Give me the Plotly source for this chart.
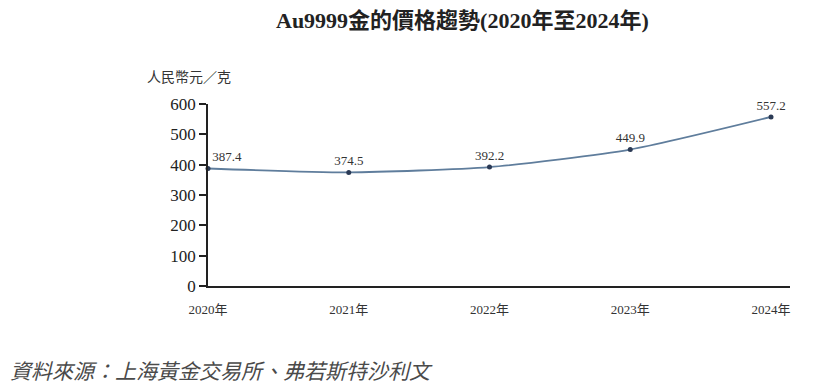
import plotly.graph_objects as go

years = [2020, 2021, 2022, 2023, 2024]
year_labels = ["2020年", "2021年", "2022年", "2023年", "2024年"]
prices = [387.4, 374.5, 392.2, 449.9, 557.2]
y_ticks = [0, 100, 200, 300, 400, 500, 600]

serif = "Liberation Serif, Times New Roman, serif"
cjk_serif = "Liberation Serif, Noto Sans CJK TC, serif"

fig = go.Figure()
fig.add_trace(go.Scatter(
    x=years, y=prices,
    mode="lines+markers+text",
    line=dict(color="#5f7d9c", width=1.8, shape="spline", smoothing=0.6),
    marker=dict(color="#2b3a55", size=5),
    text=[f"{v:.1f}" for v in prices],
    textposition=["top right", "top center", "top center", "top center", "top center"],
    textfont=dict(family=serif, size=13, color="#333333"),
    cliponaxis=False,
    hoverinfo="skip",
))

fig.update_layout(
    width=831, height=384,
    margin=dict(l=200, r=49, t=96, b=106),
    paper_bgcolor="white", plot_bgcolor="white",
    showlegend=False,
    xaxis=dict(
        range=[2020, 2024.135], tickmode="array", tickvals=years, ticktext=year_labels,
        showline=True, linecolor="#222222", linewidth=1.5, showgrid=False, zeroline=False,
        ticks="", tickfont=dict(family=cjk_serif, size=13, color="#333333"),
        ticklabelstandoff=11,
    ),
    yaxis=dict(
        range=[0, 600], tickmode="array", tickvals=y_ticks,
        showline=True, linecolor="#222222", linewidth=1.5, showgrid=False, zeroline=False,
        ticks="outside", ticklen=7, tickwidth=1.5, tickcolor="#222222",
        tickfont=dict(family=serif, size=17, color="#222222"),
    ),
)

fig.add_annotation(
    text="<b>Au9999金的價格趨勢(2020年至2024年)</b>", xref="paper", yref="paper",
    x=0.438, y=1.4615, xanchor="center", yanchor="middle", showarrow=False,
    font=dict(family=cjk_serif, size=22, color="#222222"),
)
fig.add_annotation(
    text="人民幣元／克", xref="paper", yref="paper", x=-0.108, y=1.143,
    xanchor="left", yanchor="middle", showarrow=False,
    font=dict(family=cjk_serif, size=14, color="#333333"),
)
fig.add_annotation(
    text="<i>資料來源：上海黃金交易所、弗若斯特沙利文</i>", xref="paper", yref="paper",
    x=-0.344, y=-0.46, xanchor="left", yanchor="middle", showarrow=False,
    font=dict(family="Noto Sans CJK TC, serif", size=21, color="#4a4a4a"),
)

fig.write_html("out.html")
